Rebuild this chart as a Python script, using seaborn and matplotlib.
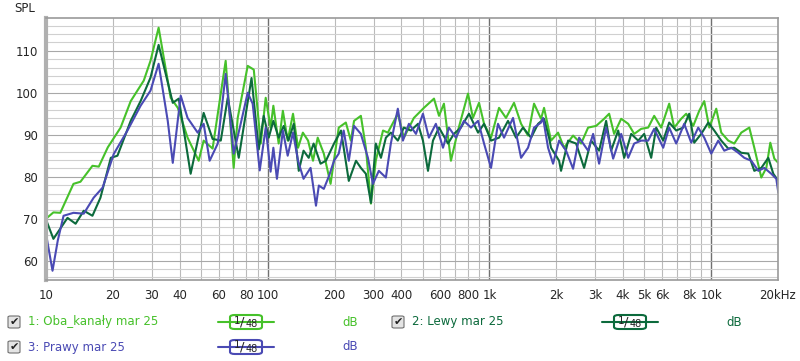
"""
REW style SPL plot: three measurements (both channels, left, right),
1/48 octave smoothing, log frequency axis 10 Hz - 20 kHz.
"""
import numpy as np
import pandas as pd
import seaborn as sns
import matplotlib.pyplot as plt
from matplotlib.patches import FancyBboxPatch

# Series data (Hz, dB SPL)
OBA_FREQ = [10, 10.8, 11.6, 13.3, 14.3, 16.2, 17.3, 19.0, 21.7, 24.1, 27.6, 29.6, 32.2,
            36.5, 39.3, 43.5, 48.8, 51.4, 56.4, 64.6, 70.2, 73.2, 81.2, 86.5, 93, 97.9,
            103, 106, 112, 117, 123, 130, 137, 144, 152, 160, 168, 179, 192, 209, 225,
            237, 245, 263, 277, 292, 307, 331, 348, 386, 411, 456, 506, 562, 592, 623,
            670, 721, 800, 842, 897, 945, 1016, 1104, 1187, 1290, 1388, 1492, 1588, 1708,
            1762, 1895, 2038, 2169, 2382, 2589, 2784, 3026, 3288, 3464, 3648, 3925, 4221,
            4493, 4831, 5195, 5529, 5947, 6462, 6808, 7320, 7711, 8294, 8828, 9299, 9795,
            10533, 11095, 11932, 12701, 13660, 14845, 15637, 16817, 17714, 18466, 19249,
            20065]
OBA_DB = [70.0, 71.5, 71.4, 78.3, 78.8, 82.6, 82.4, 87.0, 91.7, 98.0, 102.9, 107.6, 115.5,
          98.8, 96.4, 89.3, 83.8, 88.6, 86.7, 107.6, 82.1, 94.0, 106.4, 105.5, 87.9, 98.8,
          91.7, 96.9, 87.9, 95.7, 88.6, 95.0, 86.9, 90.5, 88.6, 83.8, 89.3, 85.5, 78.3,
          91.7, 92.9, 88.6, 93.3, 94.5, 86.9, 73.6, 83.8, 91.0, 90.5, 95.0, 89.3, 94.0,
          96.4, 98.6, 94.5, 97.4, 83.8, 91.0, 99.8, 94.0, 97.6, 92.6, 89.3, 96.4, 94.0,
          97.6, 92.6, 89.8, 97.4, 93.8, 96.4, 88.6, 90.5, 86.9, 89.8, 87.9, 91.7, 92.1,
          93.8, 95.0, 90.2, 93.8, 92.6, 90.2, 91.4, 91.7, 94.5, 91.7, 97.4, 91.7, 93.8,
          95.0, 92.1, 95.7, 98.0, 91.7, 96.2, 90.5, 88.6, 87.9, 90.5, 91.7, 86.9, 79.8,
          82.1, 88.1, 84.3, 83.3]

LEWY_FREQ = [10, 10.8, 12.5, 13.6, 14.8, 16.2, 17.6, 19.6, 21.0, 24.1, 26.7, 29.6, 32.2,
             37.3, 39.7, 44.9, 51.4, 56.4, 61.4, 66.0, 74.0, 84.5, 91.1, 95.9, 101, 106,
             112, 118, 124, 131, 138, 145, 153, 161, 173, 183, 199, 214, 232, 250, 263,
             277, 292, 307, 324, 341, 359, 386, 411, 442, 476, 501, 528, 556, 592, 650,
             691, 743, 808, 888, 945, 1016, 1104, 1212, 1317, 1416, 1540, 1656, 1762,
             1856, 1895, 2060, 2102, 2262, 2458, 2671, 2872, 3121, 3357, 3536, 3804, 4049,
             4355, 4684, 4984, 5360, 5645, 6072, 6462, 6950, 7474, 7956, 8380, 9013, 9694,
             10316, 11095, 11932, 12701, 13660, 14691, 15637, 16817, 18086, 19050, 20065]
LEWY_DB = [69.8, 65.2, 70.2, 68.8, 71.9, 70.7, 75.0, 84.5, 85.0, 93.3, 98.0, 103.6, 111.4,
           97.6, 98.6, 80.7, 95.2, 89.0, 88.6, 98.8, 84.5, 103.5, 86.5, 94.5, 89.3, 93.3,
           89.3, 92.1, 88.6, 92.6, 81.4, 86.2, 84.5, 87.9, 83.1, 83.8, 87.9, 91.0, 79.0,
           83.8, 82.1, 80.7, 73.8, 87.9, 84.5, 89.3, 90.5, 88.6, 91.7, 91.0, 92.6, 88.6,
           81.4, 88.6, 91.7, 87.9, 90.2, 91.7, 95.0, 90.5, 92.6, 88.6, 89.3, 93.3, 89.3,
           91.7, 89.3, 92.6, 93.8, 89.3, 86.9, 83.8, 81.4, 88.6, 87.9, 82.1, 88.6, 86.2,
           93.3, 86.2, 91.0, 84.5, 90.2, 88.6, 90.2, 84.5, 91.7, 88.6, 92.9, 91.0, 91.7,
           95.0, 88.1, 90.2, 92.9, 91.0, 88.6, 86.7, 86.9, 85.7, 85.5, 81.4, 82.1, 84.5,
           80.7, 79.0]

PRAWY_FREQ = [10, 10.7, 11.3, 12.0, 13.3, 14.8, 16.4, 18.0, 20.2, 23.3, 26.7, 29.6, 32.2,
              35.4, 37.3, 40.5, 43.5, 48.3, 51.4, 54.7, 59.5, 64.6, 70.2, 75.5, 81.2, 85.5,
              92.0, 97.9, 103, 106, 110, 117, 123, 130, 137, 145, 156, 165, 170, 179, 189,
              199, 209, 220, 232, 245, 263, 283, 298, 317, 341, 359, 386, 407, 433, 466,
              501, 533, 573, 617, 656, 706, 767, 825, 888, 945, 1016, 1092, 1163, 1277,
              1388, 1492, 1588, 1708, 1744, 1837, 1935, 2060, 2215, 2382, 2536, 2784, 2933,
              3121, 3357, 3611, 3925, 4221, 4493, 4831, 5195, 5529, 6072, 6462, 6950, 7552,
              8123, 8737, 9299, 10000, 10755, 11447, 12311, 13240, 14093, 15156, 16300,
              17351, 18658, 19652, 20065]
PRAWY_DB = [66.4, 57.6, 64.8, 70.7, 71.4, 71.2, 75.0, 77.4, 85.4, 91.0, 96.9, 100.5, 106.9,
            93.3, 83.3, 99.3, 94.0, 90.5, 92.6, 83.8, 87.9, 104.5, 85.5, 92.6, 100.0, 97.4,
            81.5, 91.7, 81.2, 86.9, 79.5, 91.0, 85.0, 90.5, 83.8, 79.5, 82.1, 73.1, 77.9,
            77.1, 80.2, 83.8, 85.5, 91.0, 83.8, 92.1, 90.2, 84.5, 78.3, 81.4, 79.8, 87.9,
            96.2, 88.6, 92.6, 90.2, 95.0, 89.3, 92.6, 86.9, 91.7, 89.3, 93.3, 91.7, 93.3,
            87.9, 82.1, 92.6, 89.3, 94.0, 84.5, 86.9, 91.7, 92.9, 94.0, 86.9, 83.1, 88.6,
            86.2, 81.9, 89.3, 86.2, 90.2, 83.1, 91.7, 84.3, 90.2, 84.5, 87.9, 88.6, 88.6,
            91.4, 86.9, 91.7, 87.9, 92.6, 88.1, 91.7, 89.3, 85.5, 88.6, 86.2, 86.9, 85.7,
            84.5, 83.8, 81.4, 82.1, 80.7, 79.5, 76.2]

SERIES_NAMES = ["1: Oba_kanały mar 25", "2: Lewy mar 25", "3: Prawy mar 25"]
COLORS = ["#46c12a", "#0c6a3c", "#4a4ab4"]

X_TICKS = [10, 20, 30, 40, 60, 80, 100, 200, 300, 400, 600, 800, 1000, 2000, 3000,
           4000, 5000, 6000, 8000, 10000, 20000]
X_LABELS = ["10", "20", "30", "40", "60", "80", "100", "200", "300", "400", "600", "800",
            "1k", "2k", "3k", "4k", "5k", "6k", "8k", "10k", "20kHz"]
Y_TICKS = [60, 70, 80, 90, 100, 110]


def build_frame():
    parts = []
    for name, f, db in zip(SERIES_NAMES,
                           [OBA_FREQ, LEWY_FREQ, PRAWY_FREQ],
                           [OBA_DB, LEWY_DB, PRAWY_DB]):
        parts.append(pd.DataFrame({"freq": f, "spl": db, "series": name}))
    return pd.concat(parts, ignore_index=True)


def legend_row(fig, x0, y, name, color):
    W, H = 800.0, 361.0
    # checkbox
    fig.patches.append(FancyBboxPatch(((x0 - 6) / W, 1 - (y + 6) / H), 12 / W, 12 / H,
                                      boxstyle="round,pad=0,rounding_size=0.003",
                                      transform=fig.transFigure, fc="#e4e4e4",
                                      ec="#707070", lw=0.8))
    fig.text(x0 / W, 1 - y / H, "✔", ha="center", va="center", fontsize=8, color="#202020")
    fig.text((x0 + 14) / W, 1 - y / H, name, ha="left", va="center", fontsize=8.5,
             color=color)
    # line sample with smoothing box
    cx = x0 + 232
    fig.add_artist(plt.Line2D([(cx - 28) / W, (cx + 28) / W], [1 - y / H, 1 - y / H],
                              color=color, lw=1.5, transform=fig.transFigure))
    fig.patches.append(FancyBboxPatch(((cx - 16) / W, 1 - (y + 7) / H), 32 / W, 14 / H,
                                      boxstyle="round,pad=0,rounding_size=0.006",
                                      transform=fig.transFigure, fc="white", ec=color,
                                      lw=1.5))
    fig.text((cx - 9) / W, 1 - (y - 1.5) / H, "1", ha="center", va="center", fontsize=7.5)
    fig.text((cx - 3.5) / W, 1 - y / H, "/", ha="center", va="center", fontsize=9.5)
    fig.text((cx + 6) / W, 1 - (y + 2) / H, "48", ha="center", va="center", fontsize=7)
    fig.text((x0 + 336) / W, 1 - y / H, "dB", ha="center", va="center", fontsize=8.5,
             color=color)


def main():
    sns.set_style("white")
    plt.rcParams["font.family"] = ["DejaVu Sans"]
    df = build_frame()

    fig = plt.figure(figsize=(8, 3.61), dpi=100)
    ax = fig.add_axes([46 / 800, 1 - 280 / 361, 732 / 800, 262 / 361])

    # grid
    for dec in [10, 100, 1000, 10000]:
        for m in range(2, 10):
            if dec * m < 20000:
                ax.axvline(dec * m, color="#bababa", lw=0.8, zorder=0)
        ax.axvline(dec, color="#707070", lw=1.0, zorder=0)
    for v in range(56, 118, 2):
        ax.axhline(v, color="#a8a8a8" if v % 10 == 0 else "#d0d0d0", lw=0.8, zorder=0)

    sns.lineplot(data=df, x="freq", y="spl", hue="series", palette=COLORS,
                 hue_order=SERIES_NAMES, estimator=None, sort=False, lw=1.5,
                 legend=False, ax=ax)

    ax.set_xscale("log")
    ax.set_xlim(10, 20000)
    ax.set_ylim(55.4, 117.8)
    ax.set_xticks(X_TICKS, labels=X_LABELS)
    ax.xaxis.set_minor_locator(plt.NullLocator())
    ax.set_yticks(Y_TICKS)
    ax.tick_params(axis="x", length=0, pad=6.5, labelsize=8.5)
    ax.tick_params(axis="y", length=0, pad=6, labelsize=8.5)
    ax.set_xlabel("")
    ax.set_ylabel("")
    for side in ["top", "right", "bottom"]:
        ax.spines[side].set_color("#9a9a9a")
        ax.spines[side].set_linewidth(1.2)
    ax.spines["left"].set_color("#b0b0b0")
    ax.spines["left"].set_linewidth(3)

    fig.text(14 / 800, 1 - 9 / 361, "SPL", ha="left", va="center", fontsize=8.5)

    legend_row(fig, 14, 322, SERIES_NAMES[0], COLORS[0])
    legend_row(fig, 398, 322, SERIES_NAMES[1], COLORS[1])
    legend_row(fig, 14, 347, SERIES_NAMES[2], COLORS[2])

    fig.savefig("out.png", dpi=100)


if __name__ == "__main__":
    main()
